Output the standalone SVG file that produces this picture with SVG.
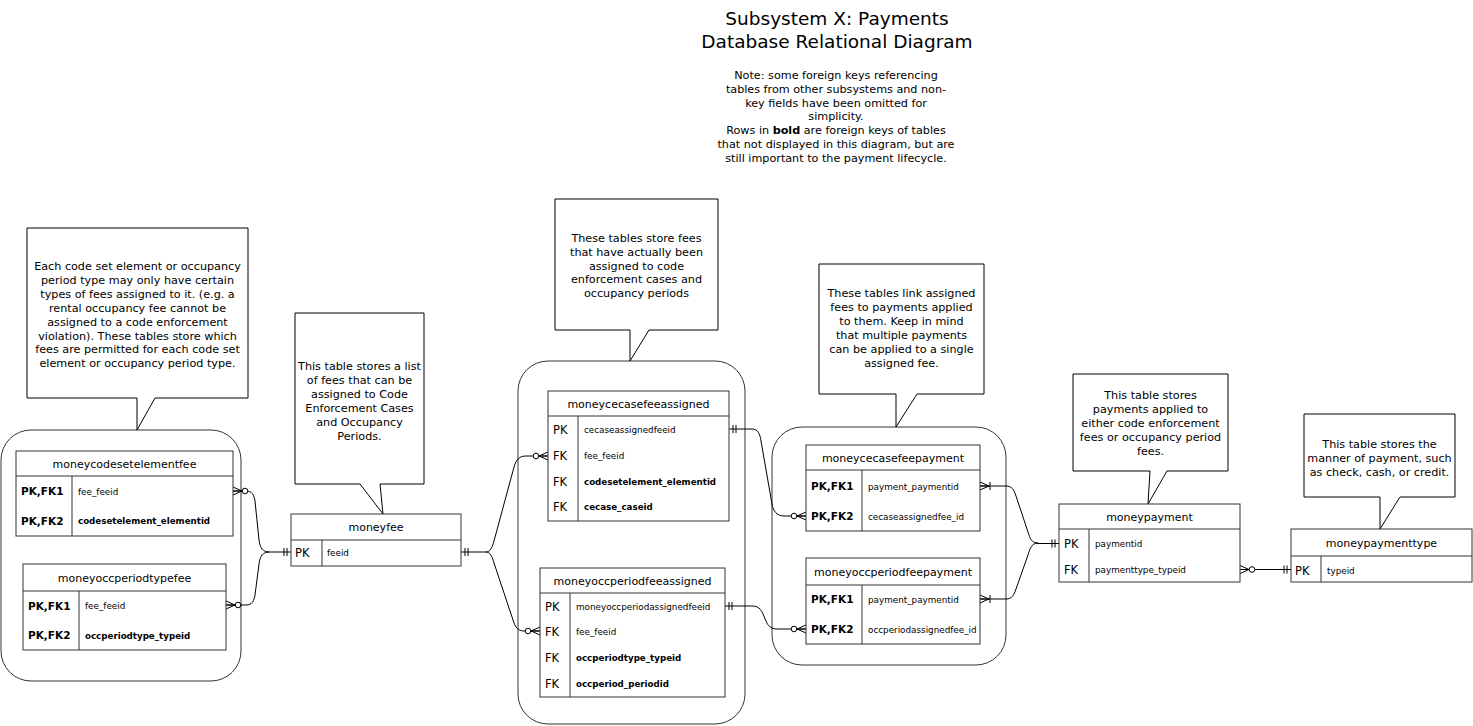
<svg xmlns="http://www.w3.org/2000/svg" width="1473" height="726" viewBox="0 0 1473 726">
<style>
text{font-family:"DejaVu Sans","Liberation Sans",sans-serif;fill:#000}
.title{font-size:18.5px;text-anchor:middle}
.note{font-size:11.2px;text-anchor:middle}
.hdr{font-size:11px;text-anchor:middle}
.key{font-size:11.5px}
.keyb{font-size:10.5px;font-weight:bold}
.fld{font-size:8.8px}
.fldb{font-size:8.7px;font-weight:bold}
.grp{fill:#fff;stroke:#333;stroke-width:1}
.tbl rect{fill:#fff;stroke:#333;stroke-width:1}
.tbl line{stroke:#333;stroke-width:1}
.call{fill:#fff;stroke:#000;stroke-width:1}
.conn path{fill:none;stroke:#000;stroke-width:1}
</style>
<defs>
<marker id="one" markerUnits="userSpaceOnUse" markerWidth="20" markerHeight="20" refX="0" refY="0" viewBox="-10 -10 20 20" orient="auto" overflow="visible">
<path d="M4,-4V4M7,-4V4" fill="none" stroke="#000"/>
</marker>
<marker id="oneEnd" markerUnits="userSpaceOnUse" markerWidth="20" markerHeight="20" refX="0" refY="0" viewBox="-10 -10 20 20" orient="auto" overflow="visible">
<path d="M-4,-4V4M-7,-4V4" fill="none" stroke="#000"/>
</marker>
<marker id="zm" markerUnits="userSpaceOnUse" markerWidth="30" markerHeight="20" refX="0" refY="0" viewBox="-15 -10 30 20" orient="auto" overflow="visible">
<path d="M9,0L0,-4M9,0L0,4M0,0H9" fill="none" stroke="#000"/>
<circle cx="12" cy="0" r="2.8" fill="#fff" stroke="#000"/>
</marker>
<marker id="zmEnd" markerUnits="userSpaceOnUse" markerWidth="30" markerHeight="20" refX="0" refY="0" viewBox="-15 -10 30 20" orient="auto" overflow="visible">
<path d="M-9,0L0,-4M-9,0L0,4M0,0H-9" fill="none" stroke="#000"/>
<circle cx="-12" cy="0" r="2.8" fill="#fff" stroke="#000"/>
</marker>
<marker id="om" markerUnits="userSpaceOnUse" markerWidth="30" markerHeight="20" refX="0" refY="0" viewBox="-15 -10 30 20" orient="auto" overflow="visible">
<path d="M9,0L0,-4M9,0L0,4M0,0H9M10,-4V4" fill="none" stroke="#000"/>
</marker>
</defs>
<rect width="1473" height="726" fill="#fff"/>

<g id="title">
<text class="title" x="837" y="25">Subsystem X: Payments</text>
<text class="title" x="837" y="48">Database Relational Diagram</text>
</g>
<g id="note">
<text class="note" x="836" y="79">Note: some foreign keys referencing</text>
<text class="note" x="836" y="92.8">tables from other subsystems and non-</text>
<text class="note" x="836" y="106.6">key fields have been omitted for</text>
<text class="note" x="836" y="120.4">simplicity.</text>
<text class="note" x="836" y="134.2">Rows in <tspan font-weight="bold">bold</tspan> are foreign keys of tables</text>
<text class="note" x="836" y="148">that not displayed in this diagram, but are</text>
<text class="note" x="836" y="161.8">still important to the payment lifecycle.</text>
</g>

<!-- group containers -->
<g id="group-left"><rect class="grp" x="1" y="430" width="240" height="251" rx="30" ry="30"/></g>
<g id="group-middle"><rect class="grp" x="518" y="361" width="227" height="363" rx="30" ry="30"/></g>
<g id="group-right"><rect class="grp" x="772" y="427" width="234" height="238" rx="30" ry="30"/></g>

<!-- callouts -->
<g id="callout-left">
<path class="call" d="M27 228H248V398H155L137 430L137 398H27Z"/>
<text class="note" x="137.5" y="270">Each code set element or occupancy</text>
<text class="note" x="137.5" y="283.9">period type may only have certain</text>
<text class="note" x="137.5" y="297.8">types of fees assigned to it. (e.g. a</text>
<text class="note" x="137.5" y="311.7">rental occupancy fee cannot be</text>
<text class="note" x="137.5" y="325.6">assigned to a code enforcement</text>
<text class="note" x="137.5" y="339.5">violation). These tables store which</text>
<text class="note" x="137.5" y="353.4">fees are permitted for each code set</text>
<text class="note" x="137.5" y="367.3">element or occupancy period type.</text>
</g>
<g id="callout-moneyfee">
<path class="call" d="M295 313H424V484H380L383 514L360 484H295Z"/>
<text class="note" x="359.5" y="369.7">This table stores a list</text>
<text class="note" x="359.5" y="383.7">of fees that can be</text>
<text class="note" x="359.5" y="397.7">assigned to Code</text>
<text class="note" x="359.5" y="411.7">Enforcement Cases</text>
<text class="note" x="359.5" y="425.7">and Occupancy</text>
<text class="note" x="359.5" y="439.7">Periods.</text>
</g>
<g id="callout-middle">
<path class="call" d="M555 199H718V330H649L630 361L630 330H555Z"/>
<text class="note" x="636.5" y="241.7">These tables store fees</text>
<text class="note" x="636.5" y="255.6">that have actually been</text>
<text class="note" x="636.5" y="269.5">assigned to code</text>
<text class="note" x="636.5" y="283.4">enforcement cases and</text>
<text class="note" x="636.5" y="297.3">occupancy periods</text>
</g>
<g id="callout-right">
<path class="call" d="M819 264H984V394H917L896 427L896 394H819Z"/>
<text class="note" x="901.5" y="297.3">These tables link assigned</text>
<text class="note" x="901.5" y="311.2">fees to payments applied</text>
<text class="note" x="901.5" y="325.1">to them. Keep in mind</text>
<text class="note" x="901.5" y="339">that multiple payments</text>
<text class="note" x="901.5" y="352.9">can be applied to a single</text>
<text class="note" x="901.5" y="366.8">assigned fee.</text>
</g>
<g id="callout-moneypayment">
<path class="call" d="M1073 374H1228V471H1167L1148 504L1150 471H1073Z"/>
<text class="note" x="1150.5" y="399">This table stores</text>
<text class="note" x="1150.5" y="412.9">payments applied to</text>
<text class="note" x="1150.5" y="426.8">either code enforcement</text>
<text class="note" x="1150.5" y="440.7">fees or occupancy period</text>
<text class="note" x="1150.5" y="454.6">fees.</text>
</g>
<g id="callout-moneypaymenttype">
<path class="call" d="M1304 414H1455V497H1400L1380 529L1380 497H1304Z"/>
<text class="note" x="1379.5" y="448.3">This table stores the</text>
<text class="note" x="1379.5" y="462.2">manner of payment, such</text>
<text class="note" x="1379.5" y="476.1">as check, cash, or credit.</text>
</g>

<!-- connectors -->
<g id="connectors" class="conn">
<path d="M233 491H246C252 491 254 495 255 501L259 540C260 548 263 552 269 552" marker-start="url(#zm)"/>
<path d="M226 605H246C252 605 254 601 255 595L259 564C260 556 263 552 269 552" marker-start="url(#zm)"/>
<path d="M291 552H268" marker-start="url(#one)"/>
<path d="M461 552H487" marker-start="url(#one)"/>
<path d="M548 456H526C519 456 516 460 514 467L494 541C492 548 490 552 486 552" marker-start="url(#zm)"/>
<path d="M540 631H524C518 631 515 627 513 620L494 563C492 556 490 552 486 552" marker-start="url(#zm)"/>
<path d="M729 429H752C758 429 760 434 761 441L772 504C773 511 777 516 784 516H806" marker-start="url(#one)" marker-end="url(#zmEnd)"/>
<path d="M725 606H752C758 606 761 609 763 614L766 621C768 626 771 629 777 629H806" marker-start="url(#one)" marker-end="url(#zmEnd)"/>
<path d="M980 486H1006C1012 486 1014 490 1016 496L1028 532C1030 539 1032 543 1038 543" marker-start="url(#om)"/>
<path d="M980 599H1006C1012 599 1014 595 1016 589L1028 555C1030 548 1032 543 1038 543" marker-start="url(#om)"/>
<path d="M1059 543.5H1037" marker-start="url(#one)"/>
<path d="M1240 569.5H1291" marker-start="url(#zm)" marker-end="url(#oneEnd)"/>
</g>

<!-- tables -->
<g id="moneycodesetelementfee" class="tbl">
<rect x="16" y="451" width="217" height="85"/>
<line x1="16" y1="476" x2="233" y2="476"/>
<line x1="72" y1="476" x2="72" y2="536"/>
<text class="hdr" x="124.5" y="467.5">moneycodesetelementfee</text>
<text class="keyb" x="21" y="495">PK,FK1</text>
<text class="keyb" x="21" y="524.5">PK,FK2</text>
<text class="fld" x="78" y="494.5">fee_feeid</text>
<text class="fldb" x="78" y="524">codesetelement_elementid</text>
</g>
<g id="moneyoccperiodtypefee" class="tbl">
<rect x="23" y="564" width="203" height="86"/>
<line x1="23" y1="591" x2="226" y2="591"/>
<line x1="79" y1="591" x2="79" y2="650"/>
<text class="hdr" x="124.5" y="581.5">moneyoccperiodtypefee</text>
<text class="keyb" x="28" y="609.5">PK,FK1</text>
<text class="keyb" x="28" y="639">PK,FK2</text>
<text class="fld" x="85" y="609">fee_feeid</text>
<text class="fldb" x="85" y="638.5">occperiodtype_typeid</text>
</g>
<g id="moneyfee" class="tbl">
<rect x="291" y="514" width="170" height="52"/>
<line x1="291" y1="540" x2="461" y2="540"/>
<line x1="322" y1="540" x2="322" y2="566"/>
<text class="hdr" x="376" y="531">moneyfee</text>
<text class="key" x="295" y="556.5">PK</text>
<text class="fld" x="327" y="555.5">feeid</text>
</g>
<g id="moneycecasefeeassigned" class="tbl">
<rect x="548" y="391" width="181" height="130"/>
<line x1="548" y1="416" x2="729" y2="416"/>
<line x1="578" y1="416" x2="578" y2="521"/>
<text class="hdr" x="638.5" y="407.5">moneycecasefeeassigned</text>
<text class="key" x="553" y="433.5">PK</text>
<text class="key" x="553" y="460">FK</text>
<text class="key" x="553" y="485.5">FK</text>
<text class="key" x="553" y="511">FK</text>
<text class="fld" x="584" y="432.5">cecaseassignedfeeid</text>
<text class="fld" x="584" y="459">fee_feeid</text>
<text class="fldb" x="584" y="484.5">codesetelement_elementid</text>
<text class="fldb" x="584" y="510">cecase_caseid</text>
</g>
<g id="moneyoccperiodfeeassigned" class="tbl">
<rect x="540" y="568" width="185" height="129"/>
<line x1="540" y1="593" x2="725" y2="593"/>
<line x1="570" y1="593" x2="570" y2="697"/>
<text class="hdr" x="632.5" y="584.5">moneyoccperiodfeeassigned</text>
<text class="key" x="545" y="610.5">PK</text>
<text class="key" x="545" y="635.5">FK</text>
<text class="key" x="545" y="661.5">FK</text>
<text class="key" x="545" y="687.5">FK</text>
<text class="fld" x="576" y="609.5">moneyoccperiodassignedfeeid</text>
<text class="fld" x="576" y="634.5">fee_feeid</text>
<text class="fldb" x="576" y="660.5">occperiodtype_typeid</text>
<text class="fldb" x="576" y="686.5">occperiod_periodid</text>
</g>
<g id="moneycecasefeepayment" class="tbl">
<rect x="806" y="445" width="174" height="86"/>
<line x1="806" y1="470" x2="980" y2="470"/>
<line x1="862" y1="470" x2="862" y2="531"/>
<text class="hdr" x="893" y="461.5">moneycecasefeepayment</text>
<text class="keyb" x="811" y="490">PK,FK1</text>
<text class="keyb" x="811" y="520">PK,FK2</text>
<text class="fld" x="868" y="489.5">payment_paymentid</text>
<text class="fld" x="868" y="519.5">cecaseassignedfee_id</text>
</g>
<g id="moneyoccperiodfeepayment" class="tbl">
<rect x="806" y="558" width="174" height="86"/>
<line x1="806" y1="585" x2="980" y2="585"/>
<line x1="862" y1="585" x2="862" y2="644"/>
<text class="hdr" x="893" y="575.5">moneyoccperiodfeepayment</text>
<text class="keyb" x="811" y="603">PK,FK1</text>
<text class="keyb" x="811" y="633">PK,FK2</text>
<text class="fld" x="868" y="602.5">payment_paymentid</text>
<text class="fld" x="868" y="632.5">occperiodassignedfee_id</text>
</g>
<g id="moneypayment" class="tbl">
<rect x="1059" y="504" width="181" height="78"/>
<line x1="1059" y1="529" x2="1240" y2="529"/>
<line x1="1089" y1="529" x2="1089" y2="582"/>
<text class="hdr" x="1149.5" y="520.5">moneypayment</text>
<text class="key" x="1064" y="548">PK</text>
<text class="key" x="1064" y="574">FK</text>
<text class="fld" x="1095" y="547">paymentid</text>
<text class="fld" x="1095" y="573">paymenttype_typeid</text>
</g>
<g id="moneypaymenttype" class="tbl">
<rect x="1291" y="529" width="181" height="53"/>
<line x1="1291" y1="556" x2="1472" y2="556"/>
<line x1="1321" y1="556" x2="1321" y2="582"/>
<text class="hdr" x="1381.5" y="546.5">moneypaymenttype</text>
<text class="key" x="1295" y="574.5">PK</text>
<text class="fld" x="1327" y="573.5">typeid</text>
</g>
</svg>
